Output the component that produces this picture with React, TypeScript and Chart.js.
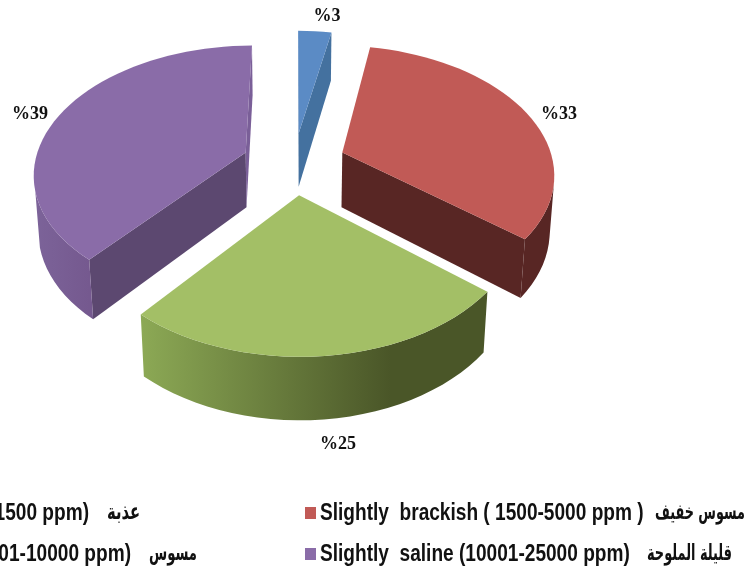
import React, { useEffect, useRef } from "react";
import { Chart, registerables } from "chart.js";

Chart.register(...registerables);

// Share of each salinity class, in percent, clockwise from twelve o'clock.
const classNames = [
  "Fresh water (< 1500 ppm)",
  "Slightly  brackish ( 1500-5000 ppm )",
  "Brackish (5001-10000 ppm)",
  "Slightly  saline (10001-25000 ppm)",
];
const classNamesArabic = ["عذبة", "مسوس خفيف", "مسوس", "قليلة الملوحة"];
const shares = [3, 33, 25, 39];

const topColors = ["#5B8BC5", "#C15A56", "#A3BF66", "#8A6CA8"];
const startWallColors = ["#44719F", "#582624", "#4A5628", "#5C4870"];
const endWallColors = ["#44719F", "#582624", "#4A5628", "#7A5F98"];
const rimLeftColors = ["#44719F", "#582624", "#8CA955", "#7C6399"];
const rimRightColors = ["#44719F", "#582624", "#4A5628", "#75598F"];

// Where each slice's percentage sits, in slice order.
const labelAnchors = [
  [327, 16],
  [559, 114],
  [338, 444],
  [30, 114],
];

// Legend rows: swatch left edge, text start or end, Arabic right edge, width.
const legendLayout = [
  { swatch: -30, textEnd: 89, arabicEnd: 140, arabicWidth: 33, y: 514 },
  { swatch: 305, textStart: 320, arabicEnd: 745, arabicWidth: 90, y: 514 },
  { swatch: -30, textEnd: 131, arabicEnd: 197, arabicWidth: 48, y: 555 },
  { swatch: 305, textStart: 320, arabicEnd: 732, arabicWidth: 85, y: 555 },
];

// Camera used to lay the pie on its side.
const TILT_COS = 0.598;
const TILT_SIN = 0.8;
const PERSPECTIVE = 0.00072;
const DEPTH = 70;
const DEPTH_PERSPECTIVE = 0.00025;
const CENTER_LIFT = 74;
const EXPLODE = 52;
const TEXT_SQUEEZE = 0.83;

function project(cx: number, cy: number, X: number, Y: number, depth: number) {
  const s = 1 / (1 - Y * PERSPECTIVE + depth * DEPTH_PERSPECTIVE);
  return { x: cx + X * s, y: cy + s * (Y * TILT_COS + depth * TILT_SIN) };
}

type Pt = { x: number; y: number };

function fillPoly(ctx: CanvasRenderingContext2D, pts: Pt[], fill: string | CanvasGradient) {
  ctx.beginPath();
  pts.forEach((p, i) => (i ? ctx.lineTo(p.x, p.y) : ctx.moveTo(p.x, p.y)));
  ctx.closePath();
  ctx.fillStyle = fill;
  ctx.fill();
}

function turn(a: Pt, b: Pt, c: Pt) {
  return (b.x - a.x) * (c.y - b.y) - (b.y - a.y) * (c.x - b.x);
}

const pie3d = {
  id: "pie3d",
  beforeDatasetsDraw(chart: any) {
    const ctx: CanvasRenderingContext2D = chart.ctx;
    const arcs = chart.getDatasetMeta(0).data;
    arcs.forEach((arc: any, i: number) => {
      const { startAngle, endAngle, outerRadius } = arc;
      const cx = arc.x;
      const cy = arc.y - CENTER_LIFT;
      const mid = (startAngle + endAngle) / 2;
      const shift = arc.options.offset;
      const ox = shift * Math.cos(mid);
      const oy = shift * Math.sin(mid);
      const steps = Math.max(4, Math.round(((endAngle - startAngle) / (2 * Math.PI)) * 120));
      const top: Pt[] = [];
      const bottom: Pt[] = [];
      for (let k = 0; k <= steps; k++) {
        const a = startAngle + ((endAngle - startAngle) * k) / steps;
        const X = ox + outerRadius * Math.cos(a);
        const Y = oy + outerRadius * Math.sin(a);
        top.push(project(cx, cy, X, Y, 0));
        bottom.push(project(cx, cy, X, Y, DEPTH));
      }
      const apexTop = project(cx, cy, ox, oy, 0);
      const apexBottom = project(cx, cy, ox, oy, DEPTH);

      // Cut faces, skipping the ones that look away from the camera.
      if (turn(apexTop, top[0], bottom[0]) < 0) {
        fillPoly(ctx, [apexTop, top[0], bottom[0], apexBottom], startWallColors[i]);
      }
      if (turn(apexTop, top[steps], bottom[steps]) > 0) {
        fillPoly(ctx, [apexTop, top[steps], bottom[steps], apexBottom], endWallColors[i]);
      }

      // Curved outer wall: one outline through the facets that face the camera.
      const facing: number[] = [];
      for (let k = 0; k <= steps; k++) {
        const prev = Math.min(k, steps - 1);
        if (turn(top[prev], top[prev + 1], bottom[prev + 1]) < 0) facing.push(k);
      }
      if (facing.length > 1) {
        const xs = facing.map((k) => top[k].x);
        const shade = ctx.createLinearGradient(Math.min(...xs), 0, Math.max(...xs), 0);
        shade.addColorStop(0, rimLeftColors[i]);
        shade.addColorStop(i === 2 ? 0.72 : 1, rimRightColors[i]);
        shade.addColorStop(1, rimRightColors[i]);
        fillPoly(
          ctx,
          [...facing.map((k) => top[k]), ...facing.slice().reverse().map((k) => bottom[k])],
          shade,
        );
      }

      // Flat top of the slice.
      fillPoly(ctx, [apexTop, ...top], arc.options.backgroundColor);
    });

    // Percentage labels.
    ctx.save();
    ctx.font = 'bold 18px "Liberation Serif"';
    ctx.textAlign = "center";
    ctx.textBaseline = "middle";
    ctx.fillStyle = "#111111";
    shares.forEach((share, n) => {
      ctx.fillText(`%${share}`, labelAnchors[n][0], labelAnchors[n][1]);
    });
    ctx.restore();

    // Two-column legend along the bottom edge.
    ctx.save();
    ctx.textBaseline = "middle";
    legendLayout.forEach((row, i) => {
      ctx.fillStyle = topColors[i];
      ctx.fillRect(row.swatch, row.y - 7, 11, 12);
      ctx.fillStyle = "#111111";
      ctx.font = 'bold 23px "Liberation Sans"';
      ctx.save();
      if (row.textStart !== undefined) {
        ctx.textAlign = "left";
        ctx.translate(row.textStart, row.y);
      } else {
        ctx.textAlign = "right";
        ctx.translate(row.textEnd as number, row.y);
      }
      ctx.scale(TEXT_SQUEEZE, 1);
      ctx.fillText(classNames[i], 0, 0);
      ctx.restore();
      ctx.font = 'bold 22px "DejaVu Sans"';
      ctx.textAlign = "right";
      ctx.fillText(classNamesArabic[i], row.arabicEnd, row.y - 1, row.arabicWidth);
    });
    ctx.restore();
    return false;
  },
};

export default function App() {
  const ref = useRef<HTMLCanvasElement>(null);
  useEffect(() => {
    if (!ref.current) return;
    const chart = new Chart(ref.current, {
      type: "pie",
      data: {
        labels: classNames,
        datasets: [
          {
            data: shares,
            backgroundColor: topColors,
            borderWidth: 0,
            offset: EXPLODE,
          },
        ],
      },
      options: {
        responsive: false,
        animation: false,
        layout: { padding: { left: 0, top: 0, right: 161, bottom: 101 } },
        plugins: { legend: { display: false }, tooltip: { enabled: false } },
      },
      plugins: [pie3d],
    } as any);
    return () => chart.destroy();
  }, []);
  return (
    <div style={{ position: "fixed", left: 0, top: 0, width: 749, height: 575, background: "#fff" }}>
      <canvas ref={ref} width={749} height={575} style={{ display: "block" }} />
    </div>
  );
}
